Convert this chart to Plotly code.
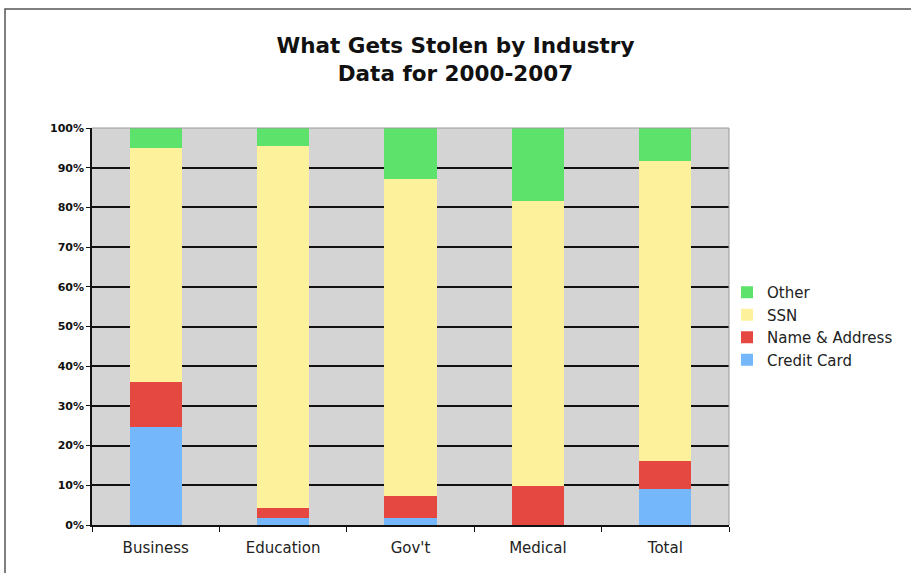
import plotly.graph_objects as go

# Share of records stolen, by industry (percent of each column)
industries = ["Business", "Education", "Gov't", "Medical", "Total"]
credit_card = [24.6, 1.8, 1.8, 0.0, 9.1]
name_address = [11.5, 2.4, 5.6, 9.9, 7.1]
ssn = [58.8, 91.3, 79.8, 71.8, 75.4]
other = [5.1, 4.5, 12.8, 18.3, 8.4]

series = [
    ("Credit Card", credit_card, "#74b8fb"),
    ("Name & Address", name_address, "#e54741"),
    ("SSN", ssn, "#fdf29b"),
    ("Other", other, "#5de36b"),
]

fig = go.Figure()
for name, vals, color in series:
    fig.add_trace(go.Bar(
        x=industries, y=vals, name=name,
        marker=dict(color=color, line=dict(width=0)),
        width=0.41,
    ))

W, H = 911, 573
L, R, T, B = 92, 729, 128, 525

def px_x(p):
    return (p - L) / (R - L)

def px_y(p):
    return (B - p) / (B - T)

fig.update_layout(
    width=W, height=H,
    margin=dict(l=L, r=W - R, t=T, b=H - B),
    barmode="stack",
    bargap=0.59,
    paper_bgcolor="white",
    plot_bgcolor="#d4d4d4",
    font=dict(family="DejaVu Sans", color="#222"),
    title=dict(
        text="What Gets Stolen by Industry<br>Data for 2000-2007",
        x=0.5, xanchor="center", xref="container",
        y=1 - 53 / H, yanchor="top",
        font=dict(family="DejaVu Sans", size=21.5, color="#111", weight="bold"),
    ),
    legend=dict(
        traceorder="reversed",
        x=px_x(727), xanchor="left",
        y=px_y(276), yanchor="top",
        font=dict(size=15, color="#222"),
        bgcolor="rgba(0,0,0,0)",
        itemwidth=30,
        tracegroupgap=0,
    ),
    xaxis=dict(
        showgrid=False,
        showline=True, linecolor="#111", linewidth=1.5,
        ticks="outside", tickson="boundaries", ticklen=5, tickcolor="#111",
        tickfont=dict(size=15, color="#222"),
        ticklabelstandoff=8,
    ),
    yaxis=dict(
        range=[0, 100], dtick=10, ticksuffix="%",
        showgrid=True, gridcolor="#111", gridwidth=1.5,
        showline=True, linecolor="#111", linewidth=1.5,
        ticks="outside", ticklen=4, tickcolor="#111",
        tickfont=dict(size=11, color="#111", weight="bold"),
        zeroline=False,
    ),
    shapes=[
        # top and right edges of the plot area
        dict(type="line", xref="paper", yref="paper", x0=0, x1=1, y0=1, y1=1,
             line=dict(color="#999", width=1), layer="above"),
        dict(type="line", xref="paper", yref="paper", x0=1, x1=1, y0=0, y1=1,
             line=dict(color="#999", width=1), layer="above"),
        # outer frame around the chart
        dict(type="rect", xref="paper", yref="paper",
             x0=px_x(5), x1=px_x(925), y0=px_y(9), y1=px_y(590),
             line=dict(color="#555", width=1.5), layer="above"),
    ],
)

fig.write_html("out.html")
